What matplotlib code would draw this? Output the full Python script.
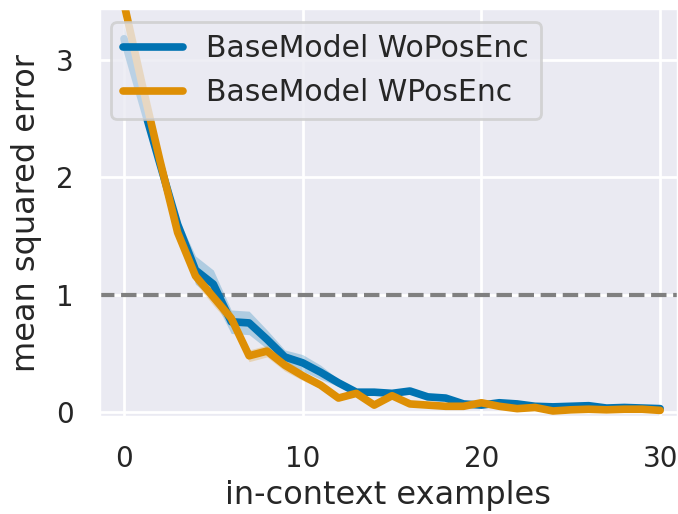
import matplotlib
matplotlib.use('Agg')
import matplotlib.pyplot as plt
import seaborn as sns
import numpy as np

# mean squared error vs number of in-context examples, two model variants
examples = np.arange(31)

mse_wo = [3.18, 2.65, 2.12, 1.60, 1.21, 1.09, 0.77, 0.76, 0.62, 0.47,
          0.42, 0.34, 0.25, 0.17, 0.17, 0.16, 0.18, 0.13, 0.12, 0.07,
          0.06, 0.08, 0.07, 0.05, 0.045, 0.05, 0.055, 0.035, 0.04, 0.035, 0.03]
err_wo = [0.10, 0.07, 0.06, 0.06, 0.12, 0.12, 0.10, 0.10, 0.08, 0.06,
          0.07, 0.06, 0.03, 0.025, 0.02, 0.02, 0.02, 0.02, 0.015, 0.01,
          0.01, 0.01, 0.01, 0.01, 0.01, 0.01, 0.01, 0.01, 0.01, 0.01, 0.01]

mse_w = [3.48, 2.80, 2.15, 1.53, 1.16, 0.98, 0.80, 0.48, 0.52, 0.40,
         0.31, 0.23, 0.12, 0.16, 0.06, 0.14, 0.07, 0.06, 0.05, 0.05,
         0.08, 0.05, 0.03, 0.04, 0.01, 0.02, 0.025, 0.02, 0.025, 0.025, 0.015]
err_w = [0.05, 0.05, 0.05, 0.06, 0.06, 0.07, 0.06, 0.05, 0.05, 0.05,
         0.04, 0.03, 0.02, 0.02, 0.015, 0.015, 0.01, 0.01, 0.01, 0.01,
         0.01, 0.01, 0.01, 0.01, 0.01, 0.01, 0.01, 0.01, 0.01, 0.01, 0.01]

labels = ['BaseModel WoPosEnc', 'BaseModel WPosEnc']

sns.set_theme(style='darkgrid', context='poster')
pal = sns.color_palette('colorblind')

fig = plt.figure(figsize=(6.78, 5.14), dpi=100)
ax = fig.add_axes([0.146, 0.189, 0.854, 0.795])

ax.axhline(1.0, color='gray', linestyle='--', linewidth=3, zorder=1)

for y, e, lab, c in [(mse_wo, err_wo, labels[0], pal[0]),
                     (mse_w, err_w, labels[1], pal[1])]:
    y = np.array(y)
    e = np.array(e)
    ax.fill_between(examples, y - e, y + e, color=c, alpha=0.25, linewidth=0)
    ax.plot(examples, y, color=c, linewidth=5.5, label=lab)

ax.set_xlim(-1.4, 31.0)
ax.set_ylim(-0.04, 3.44)
ax.set_xticks([0, 10, 20, 30])
ax.set_yticks([0, 1, 2, 3])
ax.tick_params(axis='both', labelsize=20, pad=6)
ax.tick_params(axis='x', pad=8)
ax.set_xlabel('in-context examples', fontsize=23, labelpad=5)
ax.set_ylabel('mean squared error', fontsize=23, labelpad=10)

ax.legend(loc='upper left', fontsize=21.5, handlelength=2.0,
          borderaxespad=0.4, bbox_to_anchor=(0.0, 0.995))

fig.savefig('out.png', dpi=100)
